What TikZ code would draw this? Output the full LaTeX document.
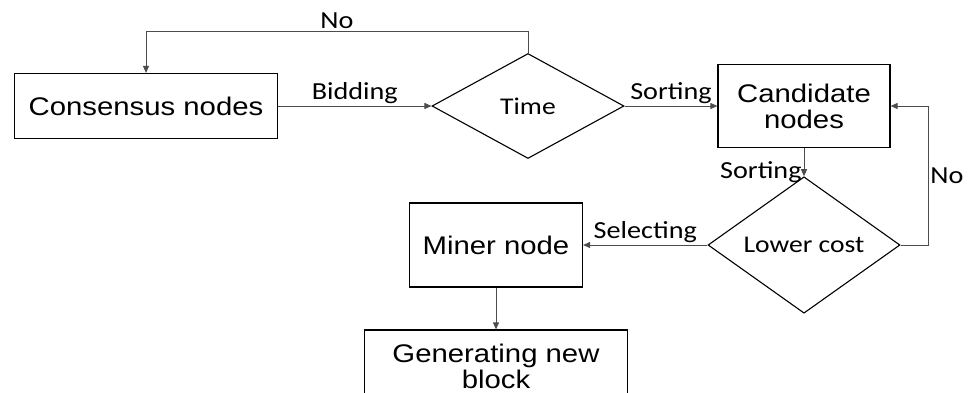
\documentclass[tikz,border=0pt]{standalone}
\usepackage{fontspec}
\setmainfont{Liberation Sans}[FakeStretch=1.15]
\newfontfamily\lblfont{Carlito}[FakeStretch=1.15]
\usetikzlibrary{shapes.geometric,arrows.meta}

\begin{document}
\begin{tikzpicture}[x=1pt,y=-1pt,
    box/.style={draw,line width=1.2pt,align=center,inner sep=0pt,
      font=\fontsize{25.5}{26}\selectfont},
    test/.style={diamond,draw,line width=1.1pt,inner sep=0pt,
      minimum width=192pt,minimum height=105pt,
      font=\lblfont\fontsize{24}{26}\selectfont},
    link/.style={-{Triangle[length=7pt,width=6pt]},line width=0.9pt,black!70},
    lbl/.style={text=black,font=\lblfont\fontsize{24.5}{26}\selectfont,inner sep=2pt}]

  % Page frame, 970 x 392 px.
  \clip (0,0) rectangle (970,392);
  \fill[white] (0,0) rectangle (970,392);

  \node[box,minimum width=263pt,minimum height=65pt] (cons) at (146,106) {Consensus nodes};
  \node[test] (time) at (528,106) {Time};
  \node[box,minimum width=172pt,minimum height=83pt] (cand) at (804,106) {Candidate\\nodes};
  \node[box,minimum width=173pt,minimum height=84pt] (miner) at (496,245) {Miner node};
  \node[test] (low) at (804,245) {Lower cost};
  \node[box,minimum width=263pt,minimum height=72pt] (gen) at (496,366) {Generating new\\block};

  % Loop-back corners.
  \coordinate (toploop) at (146,31);
  \coordinate (rightloop) at (928,106);

  \draw[link] (cons) -- node[lbl,above]{Bidding} (time);
  \draw[link] (time) -- node[lbl,above]{Sorting} (cand);
  \draw[link] (cand) -- node[lbl,left,pos=0.85]{Sorting} (low);
  \draw[link] (low) -- node[lbl,above]{Selecting} (miner);
  \draw[link] (miner) -- (gen);

  \draw[link] (time.north) |- node[lbl,pos=0.75,above]{No} (toploop) -- (cons.north);
  \draw[link] (low.east) -| node[lbl,pos=0.75,right]{No} (rightloop) -- (cand.east);
\end{tikzpicture}
\end{document}
